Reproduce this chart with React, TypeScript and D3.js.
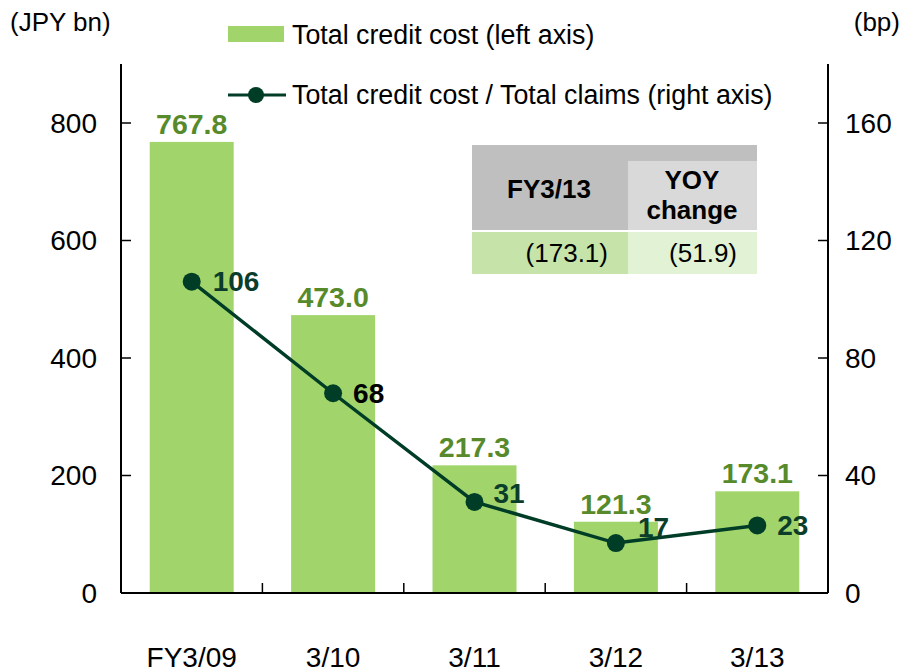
import * as d3 from "d3";

const categories = ["FY3/09", "3/10", "3/11", "3/12", "3/13"];
const creditCost = [767.8, 473.0, 217.3, 121.3, 173.1];
const costRatio = [106, 68, 31, 17, 23];
const leftTicks = [0, 200, 400, 600, 800];
const rightTicks = [0, 40, 80, 120, 160];
const tableHeader = ["FY3/13", "YOY", "change"];
const tableValues = ["(173.1)", "(51.9)"];

// label nudges for the ratio line, [dx, dy, color]
const ratioLabelPos: [number, number, string][] = [
  [21, 0, "#0b3d2a"],
  [20, 0, "#000000"],
  [19, -9, "#0b3d2a"],
  [22, -16, "#0b3d2a"],
  [20, 0, "#0b3d2a"],
];

const W = 905;
const H = 670;
const left = 121;
const right = 828;
const top = 64;
const base = 593;

const barColor = "#a1d56b";
const valueColor = "#578a2b";
const lineColor = "#003d26";
const font = "'Liberation Sans', Arial, sans-serif";

export default function App() {
  const x = d3.scaleBand<string>().domain(categories).range([left, right]).paddingInner(0.406).paddingOuter(0.203);
  const yL = d3.scaleLinear().domain([0, 800]).range([base, 123]);
  const yR = d3.scaleLinear().domain([0, 160]).range([base, 123]);
  const cx = (c: string) => (x(c) ?? 0) + x.bandwidth() / 2;

  const linePath = d3
    .line<number>()
    .x((_, i) => cx(categories[i]))
    .y((d) => yR(d))(costRatio);

  const step = x.step();
  const bounds = categories.slice(1).map((c) => (x(c) ?? 0) - (step - x.bandwidth()) / 2);

  return (
    <svg width={W} height={H} style={{ position: "absolute", left: 0, top: 0, background: "#fff" }} fontFamily={font}>
      {/* unit labels */}
      <text x={10} y={22} dy="0.35em" fontSize={26}>(JPY bn)</text>
      <text x={900} y={22} dy="0.35em" fontSize={26} textAnchor="end">(bp)</text>

      {/* legend */}
      <rect x={228} y={26} width={56} height={16} fill={barColor} />
      <text x={292} y={35} dy="0.35em" fontSize={26.8}>Total credit cost (left axis)</text>
      <line x1={228} x2={286} y1={95} y2={95} stroke={lineColor} strokeWidth={3} />
      <circle cx={256} cy={95} r={8} fill={lineColor} />
      <text x={292} y={95} dy="0.35em" fontSize={26.8}>Total credit cost / Total claims (right axis)</text>

      {/* bars */}
      {categories.map((c, i) => (
        <g key={c}>
          <rect x={x(c)} y={yL(creditCost[i])} width={x.bandwidth()} height={base - yL(creditCost[i])} fill={barColor} />
          <text x={cx(c)} y={yL(creditCost[i]) - 8} textAnchor="middle" fontSize={28.5} fontWeight="bold" fill={valueColor}>
            {creditCost[i].toFixed(1)}
          </text>
          <text x={cx(c)} y={667} textAnchor="middle" fontSize={28}>{c}</text>
        </g>
      ))}

      {/* axes */}
      <line x1={left} x2={left} y1={top} y2={base} stroke="#000" strokeWidth={2} />
      <line x1={right} x2={right} y1={top} y2={base} stroke="#000" strokeWidth={2} />
      <line x1={left} x2={right} y1={base} y2={base} stroke="#000" strokeWidth={2} />
      {leftTicks.map((t) => (
        <g key={"l" + t}>
          <line x1={left} x2={left + 10} y1={yL(t)} y2={yL(t)} stroke="#000" strokeWidth={1.5} />
          <text x={97} y={yL(t)} dy="0.35em" textAnchor="end" fontSize={28}>{t}</text>
        </g>
      ))}
      {rightTicks.map((t) => (
        <g key={"r" + t}>
          <line x1={right - 10} x2={right} y1={yR(t)} y2={yR(t)} stroke="#000" strokeWidth={1.5} />
          <text x={845} y={yR(t)} dy="0.35em" fontSize={28}>{t}</text>
        </g>
      ))}
      {bounds.map((b) => (
        <line key={b} x1={b} x2={b} y1={base} y2={base - 10} stroke="#000" strokeWidth={1.5} />
      ))}

      {/* table */}
      <rect x={472} y={145} width={285} height={85} fill="#bfbfbf" />
      <rect x={628} y={161} width={129} height={69} fill="#d9d9d9" />
      <rect x={472} y={232} width={156} height={42} fill="#c6e4a9" />
      <rect x={628} y={232} width={129} height={42} fill="#e2f2d5" />
      <text x={549} y={189} dy="0.35em" textAnchor="middle" fontSize={26} fontWeight="bold">{tableHeader[0]}</text>
      <text x={692} y={180} dy="0.35em" textAnchor="middle" fontSize={26} fontWeight="bold">{tableHeader[1]}</text>
      <text x={692} y={210} dy="0.35em" textAnchor="middle" fontSize={26} fontWeight="bold">{tableHeader[2]}</text>
      <text x={608} y={253} dy="0.35em" textAnchor="end" fontSize={26}>{tableValues[0]}</text>
      <text x={737} y={253} dy="0.35em" textAnchor="end" fontSize={26}>{tableValues[1]}</text>

      {/* ratio line */}
      <path d={linePath ?? ""} fill="none" stroke={lineColor} strokeWidth={3.5} />
      {costRatio.map((v, i) => (
        <g key={i}>
          <circle cx={cx(categories[i])} cy={yR(v)} r={9} fill={lineColor} />
          <text
            x={cx(categories[i]) + ratioLabelPos[i][0]}
            y={yR(v) + ratioLabelPos[i][1]}
            dy="0.35em"
            fontSize={28}
            fontWeight="bold"
            fill={ratioLabelPos[i][2]}
          >
            {v}
          </text>
        </g>
      ))}
    </svg>
  );
}
